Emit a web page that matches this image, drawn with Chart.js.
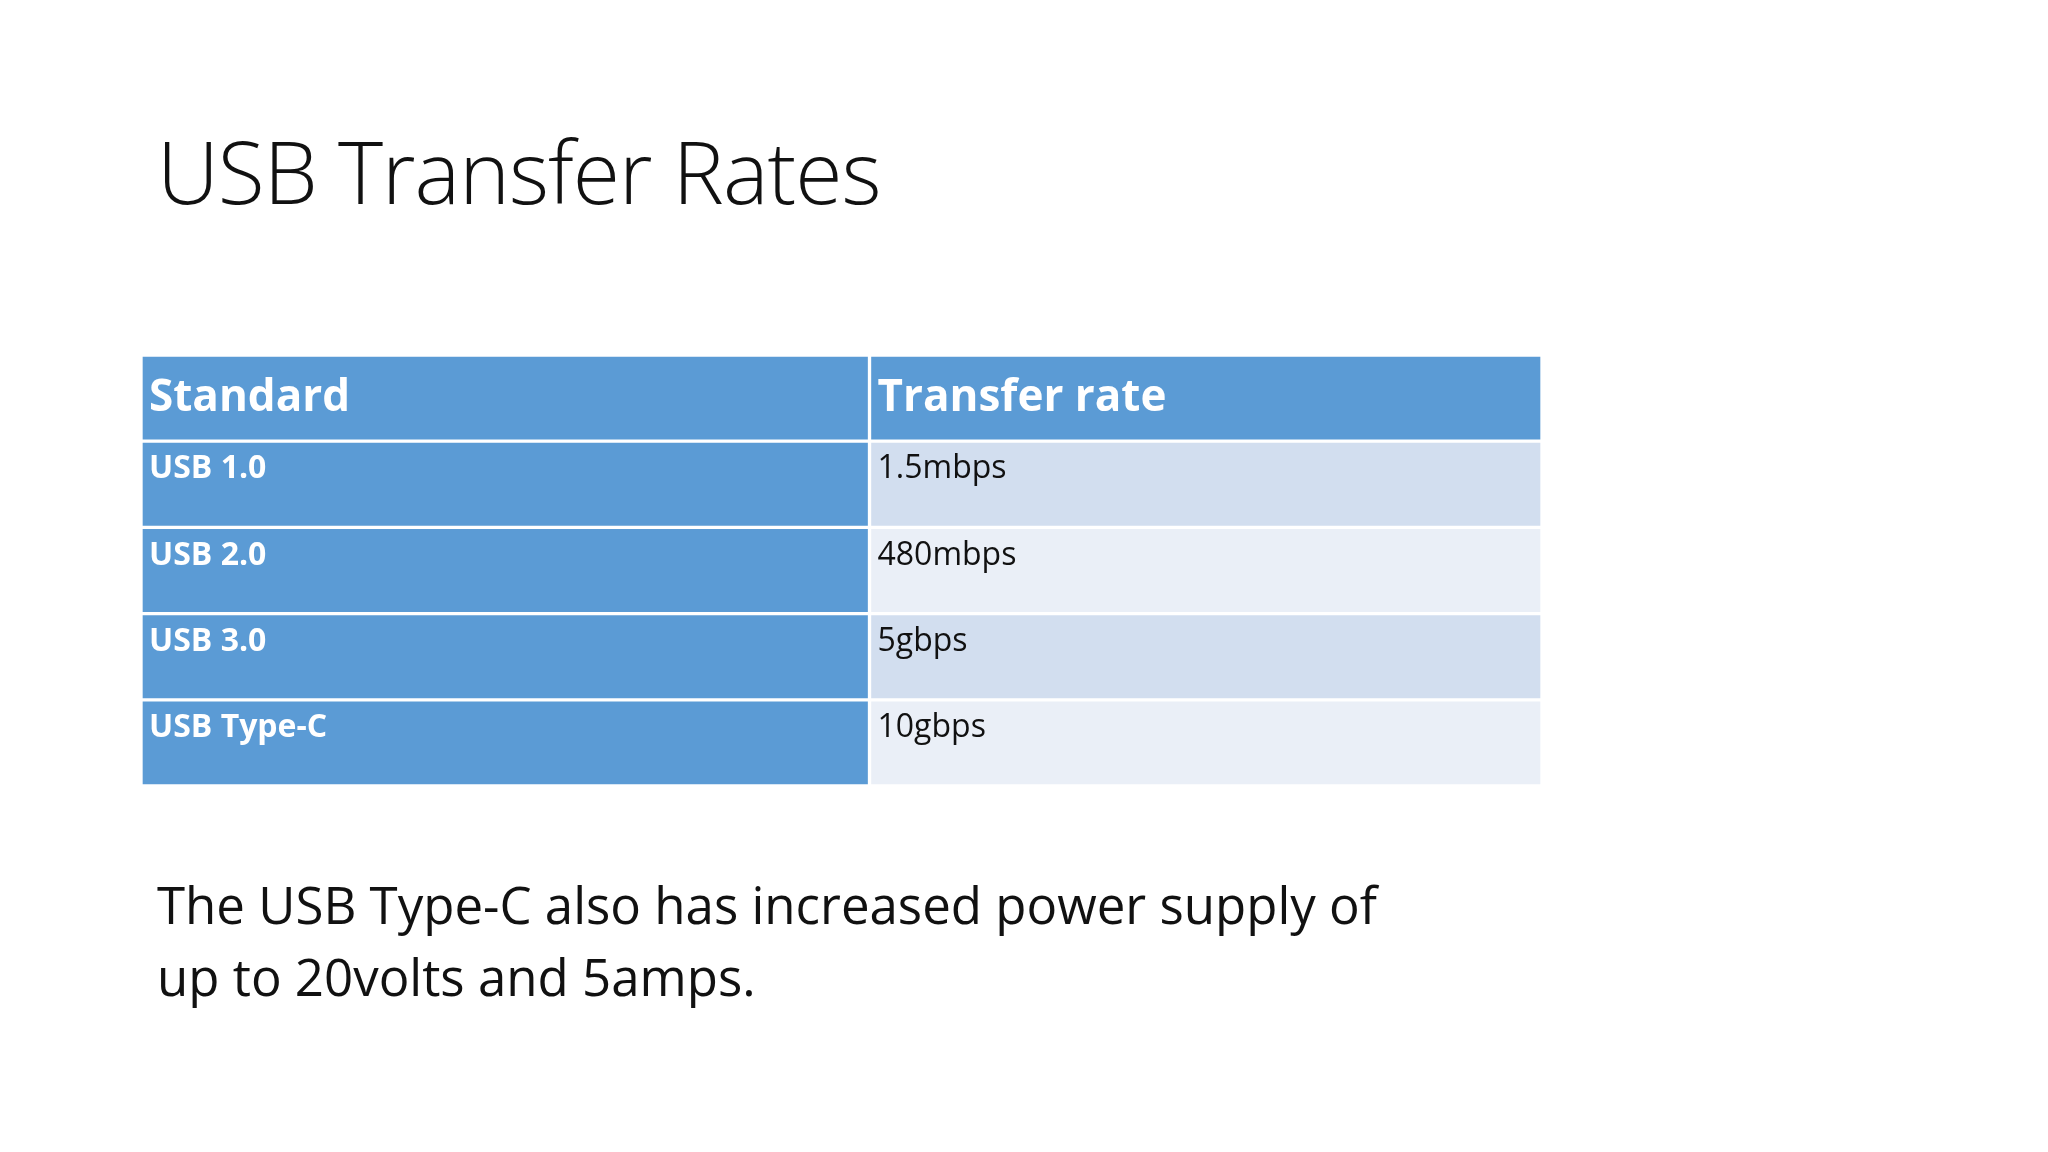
<!DOCTYPE html>
<html>
<head>
<meta charset="utf-8">
<script src="https://cdn.jsdelivr.net/npm/chart.js@4/dist/chart.umd.min.js"></script>
<style>
body{margin:0;background:#fff;width:2048px;height:1152px;overflow:hidden;position:relative;font-family:Lato,"Open Sans",sans-serif}
#title{position:absolute;left:157px;top:112px;font-size:86px;font-weight:300;color:#111;font-family:"Open Sans",sans-serif;letter-spacing:-1px}
#note{position:absolute;left:157px;top:868px;font-size:51px;line-height:72px;color:#111;font-family:"Open Sans",sans-serif}
canvas{position:absolute;left:0;top:0}
</style>
</head>
<body>
<div id="title">USB Transfer Rates</div>
<canvas id="tbl" width="2048" height="1152"></canvas>
<div id="note">The USB Type-C also has increased power supply of<br>up to 20volts and 5amps.</div>
<script>
const headers = ["Standard", "Transfer rate"]
const standards = ["USB 1.0", "USB 2.0", "USB 3.0", "USB Type-C"]
const rates = ["1.5mbps", "480mbps", "5gbps", "10gbps"]
const splitAt = 0.52

const rows = ["header"].concat(standards)
const leftCol = rows.map(() => [0, splitAt])
const rightCol = rows.map(() => [splitAt, 1])
const blue = "#5B9BD5"
const rightColors = rows.map((r, i) => i == 0 ? blue : (i % 2 ? "#D2DEEF" : "#EAEFF7"))

//Cell text drawn at bar positions
const cellText = {
    id: "cellText",
    afterDatasetsDraw(chart){
        const ctx = chart.ctx
        ctx.save()
        ctx.textBaseline = "middle"
        for(let d = 0; d < 2; d++){
            chart.getDatasetMeta(d).data.forEach(function(bar, i){
                const props = bar.getProps(["base", "y", "height"], true)
                let txt, color
                if(i == 0){
                    txt = headers[d]; color = "#fff"
                    ctx.font = "bold 44px 'Open Sans', sans-serif"
                }else{
                    txt = d == 0 ? standards[i-1] : rates[i-1]
                    color = d == 0 ? "#fff" : "#111"
                    ctx.font = (d == 0 ? "bold " : "") + "32px 'Open Sans', sans-serif"
                }
                ctx.fillStyle = color
                const y = i == 0 ? props.y : props.y - props.height/2 + 28
                ctx.fillText(txt, props.base + 8, y)
            })
        }
        ctx.restore()
    }
}

new Chart(document.getElementById("tbl").getContext("2d"), {
    type: "bar",
    data: {
        labels: rows,
        datasets: [
            {data: leftCol, backgroundColor: blue, borderColor: "#fff", borderWidth: 2, borderSkipped: false},
            {data: rightCol, backgroundColor: rightColors, borderColor: "#fff", borderWidth: 2, borderSkipped: false}
        ]
    },
    options: {
        responsive: false,
        animation: false,
        indexAxis: "y",
        layout: {padding: {left: 141, right: 506, top: 355, bottom: 366}},
        datasets: {bar: {categoryPercentage: 1, barPercentage: 1, grouped: false}},
        scales: {
            x: {type: "linear", min: 0, max: 1, display: false},
            y: {display: false}
        },
        plugins: {legend: {display: false}, tooltip: {enabled: false}}
    },
    plugins: [cellText]
})
</script>
</body>
</html>
